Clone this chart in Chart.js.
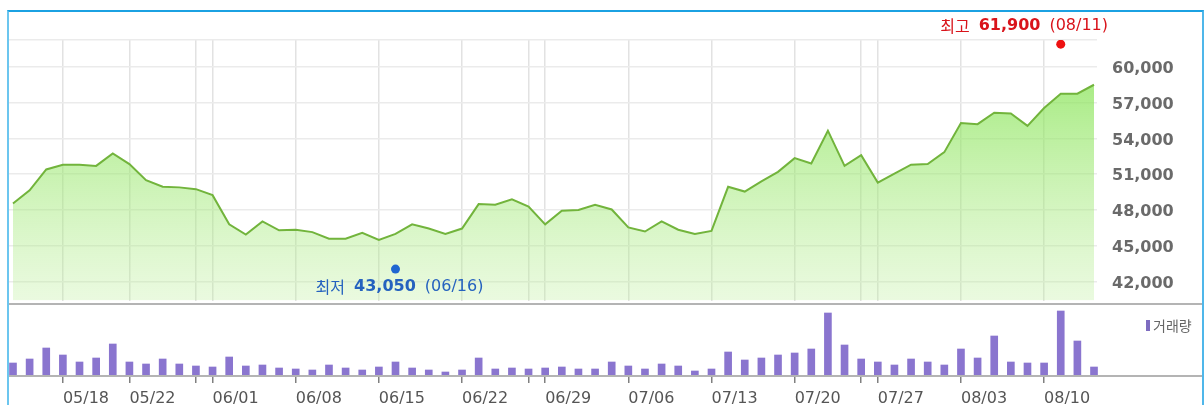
<!DOCTYPE html>
<html lang="ko">
<head>
<meta charset="utf-8">
<title>주가 차트</title>
<script src="https://cdn.jsdelivr.net/npm/chart.js@4.4.0/dist/chart.umd.min.js"></script>
<style>
  html, body { margin: 0; padding: 0; background: #fff; }
  #wrap { position: relative; width: 1204px; height: 405px; overflow: hidden; }
  #wrap canvas { position: absolute; left: 0; }
  #price { top: 0; }
  #volume { top: 305px; }
  .frame { position: absolute; left: 7px; top: 10px; width: 1193px; height: 400px;
           border-top: 2px solid #1ba1e2; border-left: 2px solid #6cc6ef; border-right: 2px solid #4fb7ea; }
  .sep { position: absolute; left: 8px; width: 1194px; height: 2px; background: #b4b4b4; }
</style>
</head>
<body>
<div id="wrap">
  <canvas id="price" width="1204" height="305"></canvas>
  <canvas id="volume" width="1204" height="100"></canvas>
  <div class="sep" style="top:303px"></div>
  <div class="sep" style="top:375px"></div>
  <div class="frame"></div>
</div>
<script>
// 거래일 (2015)
const dates = ['05/13','05/14','05/15','05/18','05/19','05/20','05/21','05/22','05/26','05/27','05/28','05/29',
  '06/01','06/02','06/03','06/04','06/05','06/08','06/09','06/10','06/11','06/12','06/15','06/16','06/17','06/18','06/19',
  '06/22','06/23','06/24','06/25','06/26','06/29','06/30',
  '07/01','07/02','07/03','07/06','07/07','07/08','07/09','07/10','07/13','07/14','07/15','07/16','07/17',
  '07/20','07/21','07/22','07/23','07/24','07/27','07/28','07/29','07/30','07/31',
  '08/03','08/04','08/05','08/06','08/07','08/10','08/11','08/12','08/13'];

// 종가
const closes = [48550, 49650, 51400, 51800, 51800, 51700, 52750, 51850, 50500, 49950, 49900, 49750,
  49250, 46800, 45950, 47050, 46300, 46350, 46150, 45600, 45600, 46100, 45500, 46000, 46800, 46450, 46000,
  46450, 48500, 48450, 48900, 48300, 46800, 47950,
  48000, 48450, 48050, 46550, 46200, 47050, 46350, 46000, 46250, 49950, 49550, 50400, 51200,
  52350, 51900, 54650, 51700, 52600, 50300, 51050, 51800, 51850,
  52850, 55300, 55200, 56150, 56100, 55050, 56550, 57750, 57750, 58500];

// 거래량 (천주)
const volumes = [260, 340, 560, 420, 280, 360, 640, 280, 240, 340, 240, 200,
  180, 380, 200, 220, 160, 140, 120, 220, 160, 120, 180, 280, 160, 120, 80,
  120, 360, 140, 160, 140, 160, 180,
  140, 140, 280, 200, 140, 240, 200, 100, 140, 480, 320, 360, 420,
  460, 540, 1260, 620, 340, 280, 220, 340, 280,
  220, 540, 360, 800, 280, 260, 260, 1300, 700, 180];

// 세로 격자선 / 날짜 라벨
const gridDates = ['05/18','05/22','05/29','06/01','06/08','06/15','06/22','06/26','06/29',
  '07/06','07/13','07/20','07/24','07/27','08/03','08/10'];
const labelDates = ['05/18','05/22','06/01','06/08','06/15','06/22','06/29','07/06','07/13',
  '07/20','07/27','08/03','08/10'];

// 가격 눈금
const priceTicks = [42000, 45000, 48000, 51000, 54000, 57000, 60000];
const priceMin = 40420;
const priceMax = 62250;
const volumeMax = 1420;

// 최고 / 최저
const highDate = '08/11', highValue = 61900;
const lowDate = '06/16', lowValue = 43050;

const xMin = -0.3;
const xMax = 65.18;
const gridIdx = gridDates.map(d => dates.indexOf(d));
const fmt = v => v.toLocaleString('en-US');

const axisFont = "'DejaVu Sans', Verdana, sans-serif";
const krFont = "'Noto Sans CJK KR', sans-serif";

// 최고/최저 주석
const markerLabels = {
  id: 'markerLabels',
  afterDatasetsDraw(chart) {
    const ctx = chart.ctx;
    const items = [
      { ds: 1, word: '최고', value: highValue, date: highDate, color: '#d9141b', dy: -18 },
      { ds: 2, word: '최저', value: lowValue, date: lowDate, color: '#2562bf', dy: 18 }
    ];
    items.forEach(it => {
      const pt = chart.getDatasetMeta(it.ds).data[0];
      const parts = [
        { t: it.word, f: '16px ' + krFont },
        { t: fmt(it.value), f: 'bold 16px ' + axisFont },
        { t: '(' + it.date + ')', f: '16px ' + axisFont }
      ];
      const gap = 9;
      let w = 0;
      parts.forEach(p => { ctx.font = p.f; p.w = ctx.measureText(p.t).width; w += p.w; });
      w += gap * (parts.length - 1);
      let x = pt.x - w / 2 + 4;
      const limit = chart.chartArea.right + 11;
      if (x + w > limit) x = limit - w;
      ctx.save();
      ctx.fillStyle = it.color;
      ctx.textBaseline = 'middle';
      ctx.textAlign = 'left';
      parts.forEach(p => {
        ctx.font = p.f;
        ctx.fillText(p.t, x, pt.y + it.dy);
        x += p.w + gap;
      });
      ctx.restore();
    });
  }
};

// 가격 차트
new Chart(document.getElementById('price'), {
  type: 'line',
  data: {
    datasets: [{
      order: 2,
      data: closes.map((v, i) => ({ x: i, y: v })),
      borderColor: '#72b43c',
      borderWidth: 2,
      pointRadius: 0,
      tension: 0,
      fill: 'start',
      backgroundColor: function(context) {
        const area = context.chart.chartArea;
        if (!area) return 'rgba(130,228,80,0.5)';
        const g = context.chart.ctx.createLinearGradient(0, area.top, 0, area.bottom);
        g.addColorStop(0, 'rgba(125,226,72,0.8)');
        g.addColorStop(1, 'rgba(185,238,150,0.3)');
        return g;
      }
    }, {
      type: 'scatter',
      order: 1,
      data: [{ x: dates.indexOf(highDate), y: highValue }],
      pointRadius: 4.5,
      pointBackgroundColor: '#ee1111',
      pointBorderWidth: 0
    }, {
      type: 'scatter',
      order: 1,
      data: [{ x: dates.indexOf(lowDate), y: lowValue }],
      pointRadius: 4.5,
      pointBackgroundColor: '#1f66d1',
      pointBorderWidth: 0
    }]
  },
  options: {
    responsive: false,
    animation: false,
    layout: { padding: { left: 8, top: 40, right: 0, bottom: 2 } },
    plugins: { legend: { display: false }, tooltip: { enabled: false } },
    scales: {
      x: {
        type: 'linear',
        min: xMin,
        max: xMax,
        afterBuildTicks: s => { s.ticks = gridIdx.map(v => ({ value: v })); },
        afterFit: s => { s.height = 0; s.paddingLeft = 0; s.paddingRight = 0; },
        ticks: { display: false },
        grid: { color: '#e2e2e2', lineWidth: 1.5, drawTicks: false },
        border: { display: false }
      },
      y: {
        position: 'right',
        min: priceMin,
        max: priceMax,
        afterBuildTicks: s => { s.ticks = priceTicks.concat([priceMax]).map(v => ({ value: v })); },
        afterFit: s => { s.width = 107; s.paddingTop = 0; s.paddingBottom = 0; },
        ticks: {
          padding: 15,
          labelOffset: 2,
          color: '#6a6a6a',
          font: { family: axisFont, size: 16, weight: 'bold' },
          callback: v => priceTicks.includes(v) ? fmt(v) : ''
        },
        grid: { color: '#ebebeb', lineWidth: 1.5, drawTicks: false },
        border: { display: false }
      }
    }
  },
  plugins: [markerLabels]
});

// 거래량 범례
const volumeLegend = {
  id: 'volumeLegend',
  afterDraw(chart) {
    const ctx = chart.ctx;
    const x = chart.width - 58;
    ctx.save();
    ctx.fillStyle = '#7e6cc0';
    ctx.fillRect(x, 15, 4, 11);
    ctx.fillStyle = '#666';
    ctx.font = '14px ' + krFont;
    ctx.textBaseline = 'middle';
    ctx.fillText('거래량', x + 7, 21);
    ctx.restore();
  }
};

// 거래량 차트
new Chart(document.getElementById('volume'), {
  type: 'bar',
  data: {
    datasets: [{
      data: volumes.map((v, i) => ({ x: i, y: v })),
      backgroundColor: '#8a75cf',
      borderWidth: 0,
      barThickness: 7,
      clip: false
    }]
  },
  options: {
    responsive: false,
    animation: false,
    layout: { padding: { left: 8, right: 107, top: 0, bottom: 0 } },
    plugins: { legend: { display: false }, tooltip: { enabled: false } },
    scales: {
      x: {
        type: 'linear',
        min: xMin,
        max: xMax,
        offset: false,
        afterBuildTicks: s => { s.ticks = gridIdx.map(v => ({ value: v })); },
        afterFit: s => { s.height = 29; s.paddingLeft = 0; s.paddingRight = 0; },
        ticks: {
          autoSkip: false,
          maxRotation: 0,
          align: 'start',
          padding: 6,
          color: '#555',
          font: { family: axisFont, size: 16 },
          callback: v => labelDates.includes(dates[v]) ? dates[v] : ''
        },
        grid: { offset: false, drawOnChartArea: false, drawTicks: true, tickLength: 7, color: '#808080', lineWidth: 1.5 },
        border: { display: false }
      },
      y: { display: false, min: 0, max: volumeMax }
    }
  },
  plugins: [volumeLegend]
});
</script>
</body>
</html>
